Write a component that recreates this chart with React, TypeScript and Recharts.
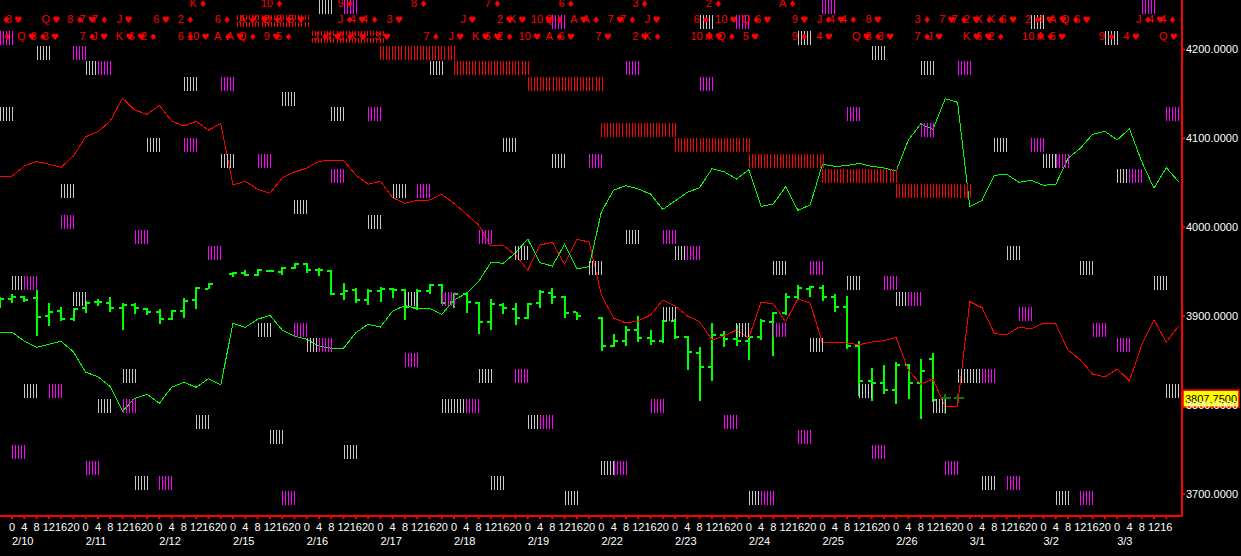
import { Bar, ComposedChart, Line, ReferenceDot, Scatter, XAxis, YAxis } from "recharts";

const firstSlot = -1;
const hourLabels = ["0", "4", "8", "12", "16", "20"];
const dateLabels = ["2/10", "2/11", "2/12", "2/15", "2/16", "2/17", "2/18", "2/19", "2/22", "2/23", "2/24", "2/25", "2/26", "3/1", "3/2", "3/3"];
const priceTicks = [3700, 3800, 3900, 4000, 4100, 4200];
const lastPrice = 3807.75;

// slots -1 .. 95
const redLine = [
  4057.4, 4057.4, 4068.9, 4074.2, 4070.9, 4067.5, 4080.2, 4101.9, 4107.5, 4119.6, 4145.1, 4131.9, 4127.1, 4137.2, 4119.6, 4113.9,
  4119.2, 4109.4, 4116.5, 4047.6, 4051.7, 4042.7, 4038.2, 4055.4, 4062.2, 4066.7, 4074.2, 4075.4, 4075.4, 4058.8, 4048.4, 4051.7,
  4033.3, 4027, 4030.4, 4030.7, 4037.1, 4027, 4014.9, 4002.6, 3978.9, 3979.7, 3968.8, 3951.9, 3980.1, 3983.1, 3958.4, 3986.5,
  3983.4, 3923.8, 3897.9, 3892.3, 3894.6, 3901.3, 3918.2, 3911.4, 3900.2, 3893.8, 3873.2, 3877.7, 3884.4, 3875.4, 3915.9, 3913.7,
  3893.8, 3919.3, 3914.8, 3869.8, 3870.9, 3869.8, 3867.9, 3870.9, 3872.4, 3876.2, 3839.4, 3823.7, 3829.3, 3798.2, 3798.9, 3916.3,
  3909.5, 3880.7, 3878.8, 3887.8, 3885.6, 3892.3, 3891.2, 3861.9, 3850.7, 3834.9, 3831.6, 3840.6, 3827.1, 3867.6, 3895.7, 3870.9, 3888.9,
];
const greenLine = [
  3881.9, 3881.9, 3872.1, 3865, 3868.4, 3871.7, 3860, 3836.9, 3831.9, 3820.7, 3793.3, 3807.6, 3812.1, 3802, 3820, 3825.6,
  3820, 3829.7, 3822.6, 3892, 3887.5, 3896.5, 3901, 3884.4, 3877.7, 3874, 3866.4, 3863.9, 3863.9, 3881.4, 3890.9, 3887.8,
  3905.8, 3911.8, 3908.9, 3908.9, 3902.1, 3918.2, 3925.7, 3938.8, 3960.6, 3959.5, 3971.1, 3986.8, 3960.2, 3956.4, 3980.9, 3953.1,
  3955.7, 4017.5, 4041.9, 4046.8, 4043.1, 4037.4, 4020.2, 4029.6, 4039.4, 4044.5, 4065.9, 4062.5, 4054.3, 4064.8, 4023.6, 4026.2,
  4045.7, 4019.1, 4025.1, 4070.9, 4068.6, 4069.3, 4072, 4068.6, 4066.7, 4063.3, 4098.2, 4116.2, 4110.2, 4144.7, 4140.6, 4023.2,
  4030.4, 4058.5, 4059.6, 4050.6, 4052.9, 4047.2, 4048.4, 4077.6, 4088.9, 4104.6, 4108, 4098.2, 4110.9, 4073.8, 4043.9, 4067, 4051.3,
];

// price bars, slots -1 .. 77
const highs = [
  3921.2, 3924.9, 3922.7, 3929.4, 3914.5, 3910, 3908.9, 3916.7, 3919, 3921.2, 3914.5, 3914.5, 3908.9, 3907.7, 3906.9, 3920.1, 3932.5, 3937, null,
  3949.4, 3951.9, 3952.7, 3951.9, 3955, 3959.5, 3959.5, 3953.9, 3951.9, 3937, 3931.4, 3930.2, 3932.5, 3931.4, 3930.2, 3930.2, 3936.2, 3936.2,
  3925.7, 3925.7, 3915.6, 3919, 3914.5, 3914.5, 3914.5, 3929.1, 3931.4, 3922.4, 3905, null,
  3898.7, 3879.9, 3888.9, 3900.2, 3884.4, 3895.7, 3896.5, 3877.7, 3865, 3892, 3883.3, 3890.1, 3877.7, 3896.5, 3904.7, 3925.7, 3935.1, 3933.9,
  3935.1, 3924.9, 3922.7, 3872.1, 3841.7, 3845.1, 3848.4, 3846.2, 3851.8, 3858.6, 3812.4, 3812.4,
];
const lows = [
  3909.5, 3915.2, 3916.3, 3877.7, 3889.3, 3894.9, 3894.9, 3903.9, 3911.8, 3905, 3884.8, 3902.8, 3901, 3890.9, 3895.7, 3897.9, 3908.4, 3930.2, null,
  3943.7, 3945.5, 3945.5, 3949.4, 3946.7, 3952.7, 3948.6, 3945.5, 3923.8, 3918.2, 3915.2, 3912.9, 3915.9, 3920.8, 3896, 3907.3, 3924.6, 3913.4,
  3909.5, 3903.9, 3880.3, 3884.8, 3902.8, 3890.4, 3897.2, 3909.5, 3913.7, 3898.3, 3896, null,
  3861.2, 3865, 3866.4, 3871.3, 3867.9, 3870.2, 3874.7, 3839.4, 3804.9, 3827.4, 3865, 3866.4, 3850.7, 3873.2, 3855.2, 3901.3, 3919.3, 3921.6,
  3917.1, 3904.7, 3863.1, 3810.2, 3804.6, 3812.4, 3801.2, 3806.8, 3784.3, 3803.8, 3789.9, 3802.3,
];
const opens = [
  3915, 3919.3, 3921.6, 3920.1, 3899.9, 3905.8, 3896.8, 3908.9, 3915.6, 3915.2, 3909.5, 3912.2, 3908.4, 3905, 3896.8, 3905.8, 3918.2, 3930.6, null,
  3947.1, 3948.9, 3946.7, 3951.2, 3950, 3954.2, 3959, 3951.9, 3951.2, 3925.3, 3929.1, 3918.2, 3928, 3930.9, 3929.4, 3908.9, 3928.3, 3935.4,
  3916.3, 3924.9, 3915.2, 3893.8, 3912.6, 3908.4, 3898.3, 3914.5, 3926.4, 3921.9, 3905, null,
  3897.6, 3866.4, 3872.4, 3884.4, 3875.4, 3872.1, 3894.6, 3876.9, 3858.9, 3843.2, 3878.8, 3874.7, 3872.4, 3876.9, 3893.8, 3903.9, 3921.9, 3930.2,
  3932, 3921.9, 3910.7, 3866.4, 3827.4, 3824.8, 3816.9, 3845.1, 3824.8, 3851.8, 3807.9, 3807.75,
];
const closes = [
  3919.7, 3921.2, 3918.2, 3899.4, 3905, 3896.5, 3908.1, 3915.2, 3915.6, 3909.5, 3912.2, 3908.9, 3905, 3896.5, 3905.8, 3917.4, 3931.7, 3936.2, null,
  3948.9, 3946.7, 3951.9, 3950.8, 3954.2, 3959, 3951.9, 3951.9, 3924.9, 3928, 3918.2, 3928, 3930.6, 3929.4, 3910, 3928.7, 3935.4, 3915.2,
  3924.9, 3915.6, 3893.8, 3913.4, 3908.9, 3898.3, 3913.7, 3926.9, 3921.9, 3903.9, 3900.5, null,
  3866.4, 3872.1, 3884.4, 3875.8, 3872.1, 3894.9, 3876.6, 3859.7, 3843.2, 3878.8, 3874.7, 3872.4, 3876.9, 3894.9, 3903.9, 3921.9, 3931.4, 3932.5,
  3921.9, 3910.7, 3866.4, 3827.4, 3824.8, 3816.9, 3845.1, 3824.8, 3838.3, 3805.7, 3807.9, 3807.75,
];
const dimSlots = [76, 77];

// [slot, price]
const whiteBlocks = [
  [25, 4247.8], [56, 4230.6], [83, 4230.6], [64, 4213.3], [89, 4213.3], [2, 4196], [70, 4196], [6, 4178.7], [34, 4178.7], [74, 4178.7],
  [14, 4161.4], [22, 4144.2], [-1, 4126.9], [26, 4126.9], [11, 4092.3], [40, 4092.3], [80, 4092.3], [17, 4075], [44, 4075], [84, 4075],
  [90, 4057.8], [4, 4040.5], [31, 4040.5], [23, 4023.2], [29, 4005.9], [50, 3988.6], [41, 3971.4], [54, 3971.4], [81, 3971.4],
  [47, 3954.1], [62, 3954.1], [87, 3954.1], [0, 3936.8], [68, 3936.8], [93, 3936.8], [5, 3919.5], [32, 3919.5], [72, 3919.5], [53, 3902.2],
  [20, 3885], [59, 3885], [24, 3867.7], [65, 3867.7], [9, 3833.1], [38, 3833.1], [77, 3833.1], [78, 3833.1], [1, 3815.8], [69, 3815.8], [94, 3815.8],
  [7, 3798.6], [35, 3798.6], [36, 3798.6], [75, 3798.6], [15, 3781.3], [42, 3781.3], [21, 3764], [27, 3746.7], [48, 3729.4], [10, 3712.2], [39, 3712.2], [79, 3712.2],
  [45, 3694.9], [60, 3694.9], [85, 3694.9],
];
const magentaBlocks = [
  [27, 4247.8], [66, 4247.8], [92, 4247.8], [44, 4230.6], [59, 4230.6], [-1, 4213.3], [5, 4196], [7, 4178.7], [50, 4178.7], [77, 4178.7],
  [17, 4161.4], [56, 4161.4], [29, 4126.9], [68, 4126.9], [94, 4126.9], [74, 4109.6], [14, 4092.3], [83, 4092.3], [20, 4075], [47, 4075], [85, 4075],
  [26, 4057.8], [91, 4057.8], [33, 4040.5], [4, 4005.9], [10, 3988.6], [38, 3988.6], [53, 3988.6], [16, 3971.4], [55, 3971.4], [65, 3954.1],
  [1, 3936.8], [71, 3936.8], [35, 3919.5], [73, 3919.5], [82, 3902.2], [23, 3885], [62, 3885], [88, 3885], [25, 3867.7], [90, 3867.7], [32, 3850.4],
  [41, 3833.1], [79, 3833.1], [3, 3815.8], [9, 3798.6], [37, 3798.6], [52, 3798.6], [43, 3781.3], [58, 3781.3], [64, 3764], [0, 3746.7], [70, 3746.7],
  [6, 3729.4], [49, 3729.4], [76, 3729.4], [12, 3712.2], [81, 3712.2], [22, 3694.9], [61, 3694.9], [87, 3694.9],
];
const redBlocks = [
  [30, 4196], [36, 4178.7], [42, 4161.4], [48, 4109.6], [54, 4092.3], [60, 4075], [66, 4057.8], [72, 4040.5],
];
const brokenBlocks = [
  [18.3, 4230.6], [24.4, 4213.3],
];

// playing card rows along the top, [slot, card]
const cardRowTop = [
  [15, "K♦"], [21, "10♦"], [27, "9♦"], [33, "8♦"], [39, "7♦"], [45, "6♦"], [51, "3♦"], [57, "2♦"], [63, "A♦"],
];
const cardRowMid = [
  [-1, "3♦"], [0, "8♥"], [3, "Q♥"], [5, "8♦"], [6, "7♥"], [7, "7♦"], [9, "J♥"], [12, "6♥"], [14, "2♦"], [17, "6♦"], [19, "A♦"], [20, "K♥"], [21, "Q♦"], [22, "8♦"], [23, "5♥"],
  [27, "J♦"], [28, "4♥"], [29, "4♦"], [31, "3♥"], [37, "J♥"], [40, "2♥"], [41, "K♥"], [43, "10♥"], [44, "Q♦"], [46, "A♥"], [47, "A♦"], [49, "7♥"], [50, "7♦"], [52, "J♥"],
  [56, "6♦"], [58, "10♥"], [60, "Q♦"], [61, "6♥"], [64, "9♥"], [66, "J♦"], [67, "4♥"], [68, "4♦"], [70, "8♥"], [74, "3♦"], [76, "7♥"], [77, "7♦"], [78, "2♥"], [79, "K♦"],
  [80, "K♦"], [81, "6♥"], [83, "2♦"], [84, "4♥"], [85, "A♥"], [86, "Q♦"], [87, "6♥"], [92, "J♦"], [93, "4♥"], [94, "4♦"],
];
const cardRowLow = [
  [-1, "Q♦"], [1, "Q♥"], [2, "8♦"], [3, "3♥"], [6, "7♦"], [7, "J♥"], [9, "K♥"], [10, "6♥"], [11, "2♦"], [14, "6♦"], [15, "10♥"], [17, "A♦"], [18, "A♥"], [19, "Q♦"], [21, "9♥"], [22, "5♦"],
  [25, "J♦"], [26, "4♥"], [27, "8♦"], [28, "K♥"], [30, "3♥"], [34, "7♦"], [36, "J♥"], [38, "K♥"], [39, "6♥"], [40, "2♦"], [42, "10♥"], [44, "A♦"], [45, "6♥"], [48, "7♥"],
  [51, "2♥"], [52, "K♦"], [56, "10♥"], [57, "A♥"], [58, "Q♦"], [60, "5♥"], [64, "9♦"], [66, "4♥"], [69, "Q♥"], [70, "8♦"], [71, "3♥"], [74, "7♦"], [75, "J♥"],
  [78, "K♥"], [79, "6♥"], [80, "2♦"], [83, "10♥"], [84, "A♦"], [85, "5♥"], [89, "9♦"], [91, "4♥"], [94, "Q♥"],
];
const cardRowPrices = [4252.3, 4234.3, 4215.2];

const FONT = "'Liberation Sans', Arial, sans-serif";
const RED = "#ff0000";
const GREEN = "#00ff00";
const DIM_GREEN = "#0b7a0b";

const rows = redLine.map((red, i) => {
  const slot = i + firstSlot;
  const high = highs[i] ?? null;
  return {
    x: slot,
    red,
    green: greenLine[i],
    range: high === null ? null : [lows[i], high],
    high,
    low: lows[i],
    open: opens[i],
    close: closes[i],
  };
});

const slotTicks = Array.from({ length: dateLabels.length * hourLabels.length - 1 }, (_, i) => i);

const toPoints = (blocks: any[]) => blocks.map(([x, y]) => ({ x, y }));
const toCards = (cards: any[], y: number) => cards.map(([x, card]) => ({ x, y, card }));

function Hatch({ cx, cy, color, count, dash }: any) {
  const left = Math.round(cx) + 0.5;
  const top = Math.round(cy);
  return (
    <g shapeRendering="crispEdges">
      {Array.from({ length: count }, (_, i) => (
        <line
          key={i}
          x1={left + Math.round(i * 3.07)}
          x2={left + Math.round(i * 3.07)}
          y1={top - 7}
          y2={top + 7}
          stroke={color}
          strokeWidth={1}
          strokeDasharray={dash}
        />
      ))}
    </g>
  );
}

function Card({ cx, cy, card }: any) {
  const rank = card.slice(0, -1);
  const suit = card.slice(-1);
  return (
    <text x={cx + 2} y={cy + 4} textAnchor="middle" fill={RED} fontFamily={FONT} fontSize={11}>
      {rank}
      <tspan dx={2} fontFamily="'DejaVu Sans'" fontSize={9}>
        {suit}
      </tspan>
    </text>
  );
}

function PriceBar({ x, y, width, height, payload }: any) {
  if (!payload || payload.high === null) return null;
  const top = Math.min(y, y + height);
  const size = Math.abs(height);
  const perPoint = size / (payload.high - payload.low);
  const cx = Math.round(x + width / 2);
  const openY = Math.round(top + (payload.high - payload.open) * perPoint);
  const closeY = Math.round(top + (payload.high - payload.close) * perPoint);
  const dim = dimSlots.includes(payload.x);
  return (
    <g fill={dim ? DIM_GREEN : GREEN} shapeRendering="crispEdges">
      <rect x={cx - 1} y={top} width={2} height={size} />
      <rect x={cx - 4} y={openY - 1} width={3} height={2} />
      <rect x={cx + 1} y={closeY - 1} width={dim ? 5 : 3} height={2} />
    </g>
  );
}

function HourTick({ x, y, payload }: any) {
  const slot = payload.value;
  const hour = hourLabels[slot % hourLabels.length];
  const date = slot % hourLabels.length === 0 ? dateLabels[slot / hourLabels.length] : null;
  return (
    <g fontFamily={FONT} fontSize={11} fill="#ffffff">
      <text x={x} y={y + 10} textAnchor="middle">
        {hour}
      </text>
      {date && (
        <text x={x} y={y + 24} textAnchor="start">
          {date}
        </text>
      )}
    </g>
  );
}

function LastPriceTag({ cy }: any) {
  return (
    <g>
      <rect x={1183} y={cy - 8} width={56} height={17} fill="#ffff00" stroke={RED} strokeWidth={1.5} />
      <text x={1211} y={cy + 4.5} textAnchor="middle" fill="#000000" fontFamily={FONT} fontSize={11}>
        {lastPrice.toFixed(4)}
      </text>
    </g>
  );
}

const hatch = (color: string) => (props: any) => <Hatch {...props} color={color} count={5} />;

export default function App() {
  return (
    <div style={{ position: "absolute", left: 0, top: 0, width: 1241, height: 556, background: "#000000" }}>
      <ComposedChart width={1241} height={556} data={rows} margin={{ top: 0, right: 0, bottom: 0, left: 0 }}>
        <XAxis
          dataKey="x"
          type="number"
          domain={[-0.977, 95.28]}
          allowDataOverflow
          ticks={slotTicks}
          interval={0}
          height={40}
          stroke={RED}
          strokeWidth={2}
          tickSize={3}
          tick={HourTick}
        />
        <YAxis
          orientation="right"
          type="number"
          domain={[3675.2, 4255.7]}
          allowDataOverflow
          ticks={priceTicks}
          width={59}
          stroke={RED}
          strokeWidth={2}
          tickSize={3}
          tickMargin={1}
          tickFormatter={(value: number) => value.toFixed(4)}
          tick={{ fill: "#ffffff", fontSize: 11, fontFamily: FONT }}
        />
        <Scatter data={toPoints(whiteBlocks)} dataKey="y" isAnimationActive={false} shape={hatch("#c8c8c8")} />
        <Scatter data={toPoints(magentaBlocks)} dataKey="y" isAnimationActive={false} shape={hatch("#ff00ff")} />
        <Scatter
          data={toPoints(redBlocks)}
          dataKey="y"
          isAnimationActive={false}
          shape={(props: any) => <Hatch {...props} color={RED} count={25} />}
        />
        <Scatter
          data={toPoints(brokenBlocks)}
          dataKey="y"
          isAnimationActive={false}
          shape={(props: any) => <Hatch {...props} color={RED} count={24} dash="5 2" />}
        />
        <Scatter data={toCards(cardRowTop, cardRowPrices[0])} dataKey="y" isAnimationActive={false} shape={Card} />
        <Scatter data={toCards(cardRowMid, cardRowPrices[1])} dataKey="y" isAnimationActive={false} shape={Card} />
        <Scatter data={toCards(cardRowLow, cardRowPrices[2])} dataKey="y" isAnimationActive={false} shape={Card} />
        <Line dataKey="red" stroke={RED} strokeWidth={1} dot={false} activeDot={false} shapeRendering="crispEdges" isAnimationActive={false} />
        <Line dataKey="green" stroke={GREEN} strokeWidth={1} dot={false} activeDot={false} shapeRendering="crispEdges" isAnimationActive={false} />
        <Bar dataKey="range" barSize={2} isAnimationActive={false} shape={PriceBar} activeBar={false} />
        <ReferenceDot x={95.28} y={lastPrice} ifOverflow="visible" shape={LastPriceTag} />
      </ComposedChart>
    </div>
  );
}
